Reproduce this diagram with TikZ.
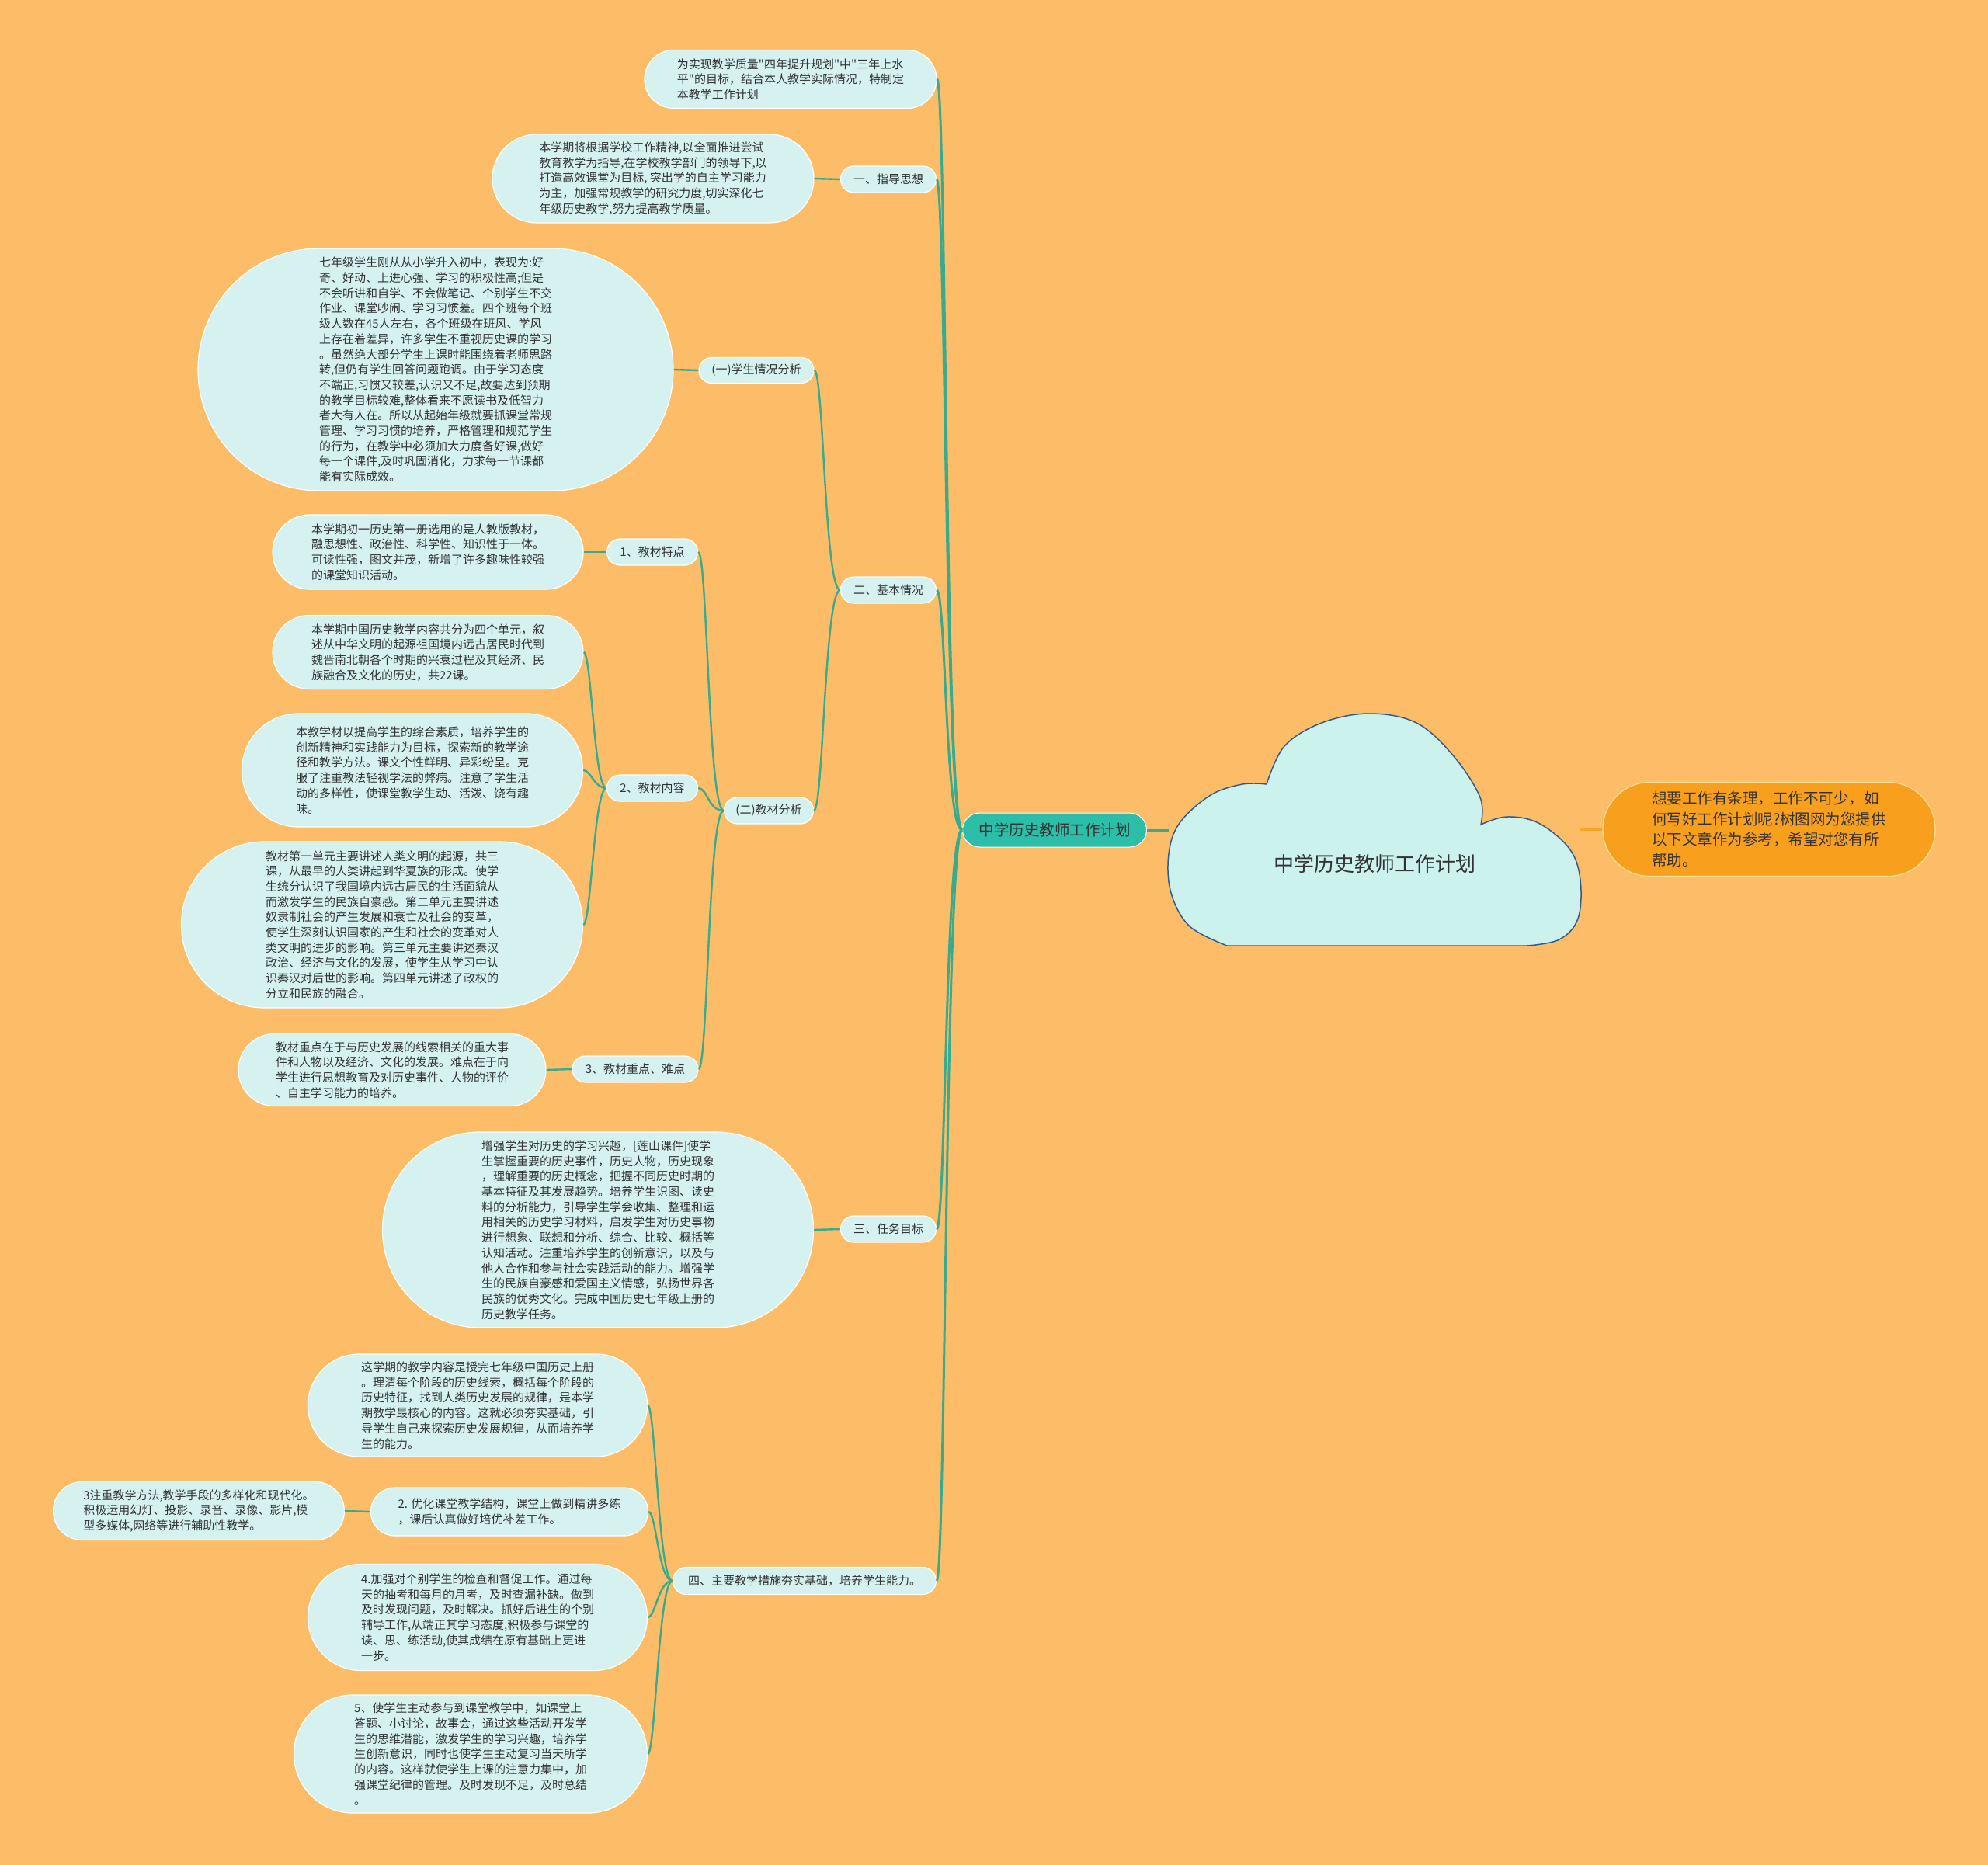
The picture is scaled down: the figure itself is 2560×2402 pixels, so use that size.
\documentclass[tikz,border=0pt]{standalone}
\usepackage{fontspec}
\setmainfont{Noto Sans CJK SC}[Ligatures=TeXOff]
\usetikzlibrary{shapes.misc}
\definecolor{bgc}{RGB}{253,189,104}
\definecolor{leaffill}{RGB}{213,242,240}
\definecolor{linkc}{RGB}{56,170,142}
\definecolor{mainfill}{RGB}{44,190,168}
\definecolor{cloudfill}{RGB}{204,242,238}
\definecolor{clouddraw}{RGB}{50,90,140}
\definecolor{notefill}{RGB}{248,160,30}
\definecolor{noteline}{RGB}{247,165,40}
\definecolor{txt}{RGB}{51,51,51}

\begin{document}
\begin{tikzpicture}[x=1pt,y=-1pt,
  every node/.style={text=txt, inner sep=2pt},
  leaf/.style={rounded rectangle, draw=white, line width=1.2pt, fill=leaffill, align=left,
    font=\fontsize{15}{19.7}\selectfont},
  mainbox/.style={rounded rectangle, draw=white, line width=1pt, fill=mainfill,
    font=\fontsize{19.5}{24}\selectfont},
  notebox/.style={rounded rectangle, draw={rgb,255:red,253;green,228;blue,150}, line width=1.2pt,
    fill=notefill, align=left, font=\fontsize{19.5}{26.6}\selectfont},
  link/.style={draw=linkc, line width=2.4pt},
  ]
\fill[bgc] (0,0) rectangle (2560,2402);
\useasboundingbox (0,0) rectangle (2560,2402);

\filldraw[fill=cloudfill, draw=clouddraw, line width=1.5pt]
  plot[smooth, tension=0.6] coordinates {(1580,1218) (1532,1193) (1508,1150) (1505,1100) (1519,1060) (1559,1024) (1600,1010) (1631,1010)}
  -- plot[smooth, tension=0.6] coordinates {(1631,1010) (1654,961) (1702,931) (1763,919) (1824,931) (1872,974) (1906,1027) (1907,1062)}
  -- plot[smooth, tension=0.6] coordinates {(1907,1062) (1940,1052) (1981,1060) (2021,1093) (2035,1133) (2032,1183) (2008,1210) (1967,1218)}
  -- cycle;
\node[font=\fontsize{26}{30}\selectfont] (root) at (1770,1113) {中学历史教师工作计划};
\coordinate (cloudW) at (1505,1069);
\coordinate (cloudE) at (2035,1068);

\node[notebox, minimum width=432, minimum height=121] (note) at (2278,1068)
  {想要工作有条理，工作不可少，如\\何写好工作计划呢?树图网为您提供\\以下文章作为参考，希望对您有所\\帮助。};
\draw[draw=noteline, line width=3pt] (cloudE) -- (note.west);

\node[mainbox, minimum width=241, minimum height=44] (main) at (1358,1069) {中学历史教师工作计划};
\draw[link, line width=3pt] (main.east) -- (cloudW);

\node[leaf, minimum width=380, minimum height=75] (intro) at (1018,102)
  {为实现教学质量"四年提升规划"中"三年上水\\平"的目标，结合本人教学实际情况，特制定\\本教学工作计划};
\node[leaf, minimum width=127, minimum height=34] (zd) at (1144,231) {一、指导思想};
\node[leaf, minimum width=127, minimum height=34] (jb) at (1144,760) {二、基本情况};
\node[leaf, minimum width=127, minimum height=34] (rw) at (1144,1583) {三、任务目标};
\node[leaf, minimum width=343, minimum height=35] (cs) at (1036,2036) {四、主要教学措施夯实基础，培养学生能力。};
\foreach \t in {intro,zd,jb,rw,cs}
  \draw[link, line width=3pt] (main.west) .. controls +(-22,0) and +(12,0) .. (\t.east);

\node[leaf, minimum width=418, minimum height=114] (zdT) at (841,230)
  {本学期将根据学校工作精神,以全面推进尝试\\教育教学为指导,在学校教学部门的领导下,以\\打造高效课堂为目标, 突出学的自主学习能力\\为主，加强常规教学的研究力度,切实深化七\\年级历史教学,努力提高教学质量。};
\draw[link] (zdT.east) -- (zd.west);

\node[leaf, minimum width=152, minimum height=33] (xs) at (974,477) {(一)学生情况分析};
\node[leaf, minimum width=119, minimum height=34] (jc) at (990,1044) {(二)教材分析};
\foreach \t in {xs,jc}
  \draw[link] (jb.west) .. controls +(-20,0) and +(12,0) .. (\t.east);

\node[leaf, minimum width=616, minimum height=312] (xsT) at (561,476)
  {七年级学生刚从从小学升入初中，表现为:好\\奇、好动、上进心强、学习的积极性高;但是\\不会听讲和自学、不会做笔记、个别学生不交\\作业、课堂吵闹、学习习惯差。四个班每个班\\级人数在45人左右，各个班级在班风、学风\\上存在着差异，许多学生不重视历史课的学习\\。虽然绝大部分学生上课时能围绕着老师思路\\转,但仍有学生回答问题跑调。由于学习态度\\不端正,习惯又较差,认识又不足,故要达到预期\\的教学目标较难,整体看来不愿读书及低智力\\者大有人在。所以从起始年级就要抓课堂常规\\管理、学习习惯的培养，严格管理和规范学生\\的行为，在教学中必须加大力度备好课,做好\\每一个课件,及时巩固消化，力求每一节课都\\能有实际成效。};
\draw[link] (xsT.east) -- (xs.west);

\node[leaf, minimum width=121, minimum height=34] (td) at (840,711) {1、教材特点};
\node[leaf, minimum width=121, minimum height=34] (nr) at (840,1015) {2、教材内容};
\node[leaf, minimum width=166, minimum height=34] (zn) at (818,1377) {3、教材重点、难点};
\foreach \t in {td,nr,zn}
  \draw[link] (jc.west) .. controls +(-20,0) and +(12,0) .. (\t.east);

\node[leaf, minimum width=404, minimum height=96] (tdT) at (551,711)
  {本学期初一历史第一册选用的是人教版教材，\\融思想性、政治性、科学性、知识性于一体。\\可读性强，图文并茂，新增了许多趣味性较强\\的课堂知识活动。};
\draw[link] (tdT.east) -- (td.west);

\node[leaf, minimum width=404, minimum height=95] (nrA) at (551,840)
  {本学期中国历史教学内容共分为四个单元，叙\\述从中华文明的起源祖国境内远古居民时代到\\魏晋南北朝各个时期的兴衰过程及其经济、民\\族融合及文化的历史，共22课。};
\node[leaf, minimum width=443, minimum height=146] (nrB) at (531,992)
  {本教学材以提高学生的综合素质，培养学生的\\创新精神和实践能力为目标，探索新的教学途\\径和教学方法。课文个性鲜明、异彩纷呈。克\\服了注重教法轻视学法的弊病。注意了学生活\\动的多样性，使课堂教学生动、活泼、饶有趣\\味。};
\node[leaf, minimum width=521, minimum height=214] (nrC) at (492,1191)
  {教材第一单元主要讲述人类文明的起源，共三\\课，从最早的人类讲起到华夏族的形成。使学\\生统分认识了我国境内远古居民的生活面貌从\\而激发学生的民族自豪感。第二单元主要讲述\\奴隶制社会的产生发展和衰亡及社会的变革，\\使学生深刻认识国家的产生和社会的变革对人\\类文明的进步的影响。第三单元主要讲述秦汉\\政治、经济与文化的发展，使学生从学习中认\\识秦汉对后世的影响。第四单元讲述了政权的\\分立和民族的融合。};
\foreach \t in {nrA,nrB,nrC}
  \draw[link] (nr.west) .. controls +(-16,0) and +(10,0) .. (\t.east);

\node[leaf, minimum width=400, minimum height=93] (znT) at (505,1378)
  {教材重点在于与历史发展的线索相关的重大事\\件和人物以及经济、文化的发展。难点在于向\\学生进行思想教育及对历史事件、人物的评价\\、自主学习能力的培养。};
\draw[link] (znT.east) -- (zn.west);

\node[leaf, minimum width=559, minimum height=252] (rwT) at (770,1584)
  {增强学生对历史的学习兴趣，[莲山课件]使学\\生掌握重要的历史事件，历史人物，历史现象\\，理解重要的历史概念，把握不同历史时期的\\基本特征及其发展趋势。培养学生识图、读史\\料的分析能力，引导学生学会收集、整理和运\\用相关的历史学习材料，启发学生对历史事物\\进行想象、联想和分析、综合、比较、概括等\\认知活动。注重培养学生的创新意识，以及与\\他人合作和参与社会实践活动的能力。增强学\\生的民族自豪感和爱国主义情感，弘扬世界各\\民族的优秀文化。完成中国历史七年级上册的\\历史教学任务。};
\draw[link] (rwT.east) -- (rw.west);

\node[leaf, minimum width=441, minimum height=132] (csA) at (615,1810)
  {这学期的教学内容是授完七年级中国历史上册\\。理清每个阶段的历史线索，概括每个阶段的\\历史特征，找到人类历史发展的规律，是本学\\期教学最核心的内容。这就必须夯实基础，引\\导学生自己来探索历史发展规律，从而培养学\\生的能力。};
\node[leaf, minimum width=361, minimum height=62] (csB) at (656,1947)
  {2. 优化课堂教学结构，课堂上做到精讲多练\\，课后认真做好培优补差工作。};
\node[leaf, minimum width=441, minimum height=137] (csC) at (615,2083)
  {4.加强对个别学生的检查和督促工作。通过每\\天的抽考和每月的月考，及时查漏补缺。做到\\及时发现问题，及时解决。抓好后进生的个别\\辅导工作,从端正其学习态度,积极参与课堂的\\读、思、练活动,使其成绩在原有基础上更进\\一步。};
\node[leaf, minimum width=459, minimum height=152] (csD) at (606,2259)
  {5、使学生主动参与到课堂教学中，如课堂上\\答题、小讨论，故事会，通过这些活动开发学\\生的思维潜能，激发学生的学习兴趣，培养学\\生创新意识，同时也使学生主动复习当天所学\\的内容。这样就使学生上课的注意力集中，加\\强课堂纪律的管理。及时发现不足，及时总结\\。};
\foreach \t in {csA,csB,csC,csD}
  \draw[link] (cs.west) .. controls +(-18,0) and +(10,0) .. (\t.east);

\node[leaf, minimum width=379, minimum height=75] (csB1) at (256,1946)
  {3注重教学方法,教学手段的多样化和现代化。\\积极运用幻灯、投影、录音、录像、影片,模\\型多媒体,网络等进行辅助性教学。};
\draw[link] (csB1.east) -- (csB.west);
\end{tikzpicture}
\end{document}
